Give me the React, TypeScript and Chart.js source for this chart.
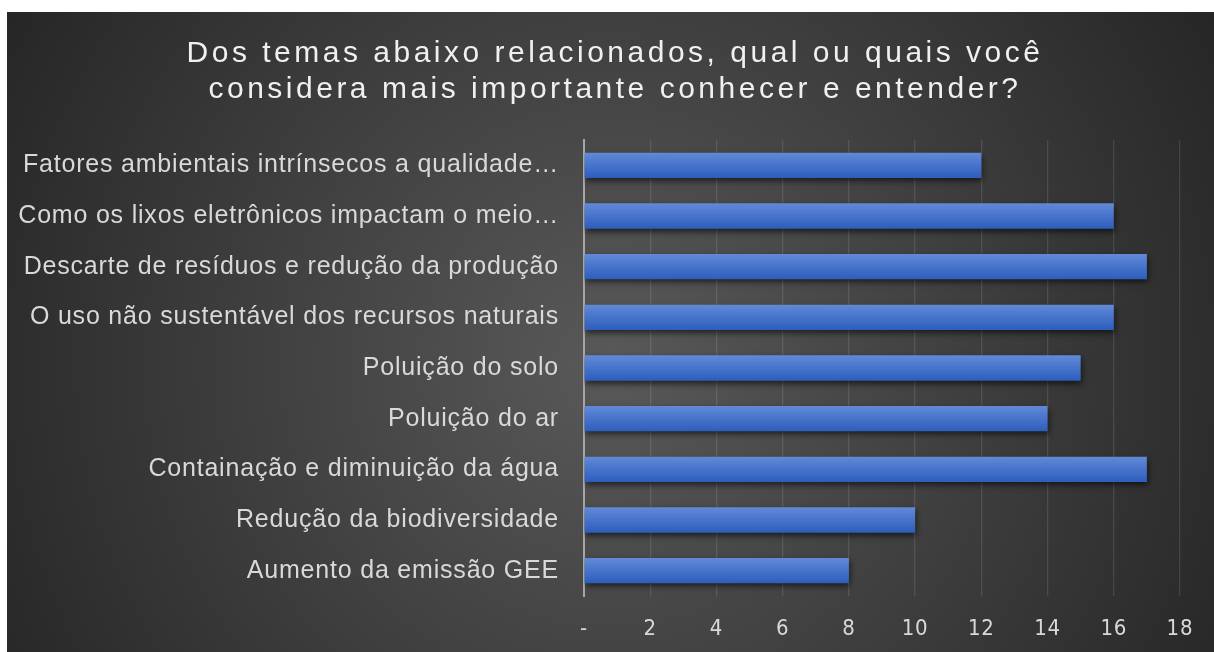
import React, { useEffect, useRef } from "react";
import { Chart, registerables } from "chart.js";

Chart.register(...registerables);

const titleLines = [
  "Dos temas abaixo relacionados, qual ou quais você",
  "considera mais importante conhecer e entender?",
];

const categories = [
  "Fatores ambientais intrínsecos a qualidade…",
  "Como os lixos eletrônicos impactam o meio…",
  "Descarte de resíduos e redução da produção",
  "O uso não sustentável dos recursos naturais",
  "Poluição do solo",
  "Poluição do ar",
  "Containação e diminuição da água",
  "Redução da biodiversidade",
  "Aumento da emissão GEE",
];

const values = [12, 16, 17, 16, 15, 14, 17, 10, 8];

const axisMin = 0;
const axisMax = 18;
const axisStep = 2;

const barShadow = {
  id: "barShadow",
  beforeDatasetsDraw(chart: any) {
    const ctx = chart.ctx;
    ctx.save();
    ctx.shadowColor = "rgba(0,0,0,0.6)";
    ctx.shadowBlur = 6;
    ctx.shadowOffsetX = 1;
    ctx.shadowOffsetY = 3;
  },
  afterDatasetsDraw(chart: any) {
    chart.ctx.restore();
  },
};

const textSpacing = {
  id: "textSpacing",
  beforeUpdate(chart: any) {
    chart.ctx.letterSpacing = "0.8px";
  },
  beforeDraw(chart: any) {
    chart.ctx.letterSpacing = "0.8px";
  },
};

export default function App() {
  const canvasRef = useRef<HTMLCanvasElement | null>(null);

  useEffect(() => {
    if (!canvasRef.current) return;
    const chart = new Chart(canvasRef.current, {
      type: "bar",
      data: {
        labels: categories,
        datasets: [
          {
            data: values,
            backgroundColor: (c: any) => {
              const ch = c.chart;
              const ys = ch.scales && ch.scales.y;
              if (!ys || c.dataIndex === undefined) return "#4472c4";
              const yc = ys.getPixelForValue(c.dataIndex);
              if (!Number.isFinite(yc)) return "#4472c4";
              const h = 13;
              const g = ch.ctx.createLinearGradient(0, yc - h, 0, yc + h);
              g.addColorStop(0, "#628ad7");
              g.addColorStop(1, "#2c5dbd");
              return g;
            },
            borderWidth: 0,
            categoryPercentage: 0.5,
            barPercentage: 1,
          },
        ],
      },
      options: {
        indexAxis: "y",
        responsive: true,
        maintainAspectRatio: false,
        animation: false,
        layout: { padding: { left: 0, right: 34, top: 0, bottom: 0 } },
        plugins: {
          legend: { display: false },
          tooltip: { enabled: false },
          title: {
            display: true,
            text: titleLines,
            color: "#f0f0f0",
            font: {
              family: '"Liberation Sans", Arial, sans-serif',
              size: 30,
              weight: "normal",
              lineHeight: 1.2,
            },
            padding: { top: 24, bottom: 32 },
          },
        },
        scales: {
          x: {
            min: axisMin,
            max: axisMax,
            ticks: {
              stepSize: axisStep,
              color: "#d9d9d9",
              padding: 20,
              font: {
                family: '"Liberation Sans Narrow", "DejaVu Sans Condensed", sans-serif',
                size: 22,
              },
              callback: (v: any) => (Number(v) === 0 ? "-" : String(v)),
            },
            grid: {
              color: (c: any) => (c.index === 0 ? "rgba(0,0,0,0)" : "rgba(255,255,255,0.11)"),
              lineWidth: 1.3,
              drawTicks: false,
            },
            border: { display: false },
            afterFit: (s: any) => {
              s.height = 56;
            },
          },
          y: {
            ticks: {
              color: "#d9d9d9",
              padding: 25,
              font: { family: '"Liberation Sans", Arial, sans-serif', size: 25 },
            },
            grid: { display: false, drawTicks: false },
            border: { display: true, color: "#a6a6a6", width: 2 },
            afterFit: (s: any) => {
              s.width = 577;
            },
          },
        },
      },
      plugins: [barShadow, textSpacing],
    } as any);

    const tb = (chart as any).titleBlock;
    if (tb) {
      const orig = tb.draw.bind(tb);
      tb.draw = (...args: any[]) => {
        const ctx = chart.ctx as any;
        ctx.save();
        ctx.letterSpacing = "3.5px";
        ctx.translate(21.5, 0);
        orig(...args);
        ctx.restore();
      };
    }
    chart.update();

    return () => chart.destroy();
  }, []);

  return (
    <div
      style={{
        position: "absolute",
        left: 7,
        top: 12,
        width: 1207,
        height: 640,
        background:
          "radial-gradient(circle farthest-corner at 50% 55%, #595959 0%, #262626 100%)",
      }}
    >
      <canvas ref={canvasRef} />
    </div>
  );
}
